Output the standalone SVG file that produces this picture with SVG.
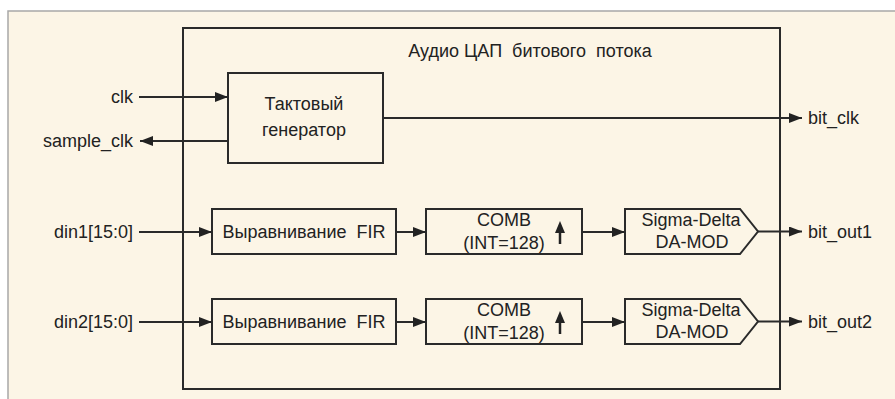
<svg xmlns="http://www.w3.org/2000/svg" width="895" height="399" viewBox="0 0 895 399">
<style>
  .t { font-family: "Liberation Sans", Arial, sans-serif; font-size: 18px; fill: #222; }
  .m { text-anchor: middle; }
  .e { text-anchor: end; }
  .box { fill: none; stroke: #2a2a2a; stroke-width: 2; }
  .ln { fill: none; stroke: #2a2a2a; stroke-width: 2; }
  .up { fill: none; stroke: #222; stroke-width: 2.5; }
</style>
<defs>
  <marker id="ah" markerWidth="13" markerHeight="10" refX="13" refY="5" orient="auto" markerUnits="userSpaceOnUse">
    <path d="M0,0 L13,5 L0,10 Z" fill="#222"/>
  </marker>
</defs>
<rect x="0" y="0" width="895" height="399" fill="#ffffff"/>
<rect x="8" y="11" width="900" height="400" fill="#fcf5e6" stroke="#a8a8a8" stroke-width="1.5"/>

<g id="dac">
  <rect class="box" x="183" y="28" width="597" height="361"/>
  <text class="t m" x="530" y="57" xml:space="preserve">Аудио ЦАП  битового  потока</text>
</g>

<g id="clkgen">
  <rect class="box" x="228" y="73" width="155" height="90"/>
  <text class="t m" x="304" y="110">Тактовый</text>
  <text class="t m" x="304" y="136">генератор</text>
</g>

<g id="fir1">
  <rect class="box" x="212" y="209" width="184" height="45"/>
  <text class="t m" x="304" y="238" xml:space="preserve">Выравнивание  FIR</text>
</g>
<g id="comb1">
  <rect class="box" x="426" y="209" width="156" height="45"/>
  <text class="t m" x="504" y="226">COMB</text>
  <text class="t m" x="504" y="249">(INT=128)</text>
  <line class="up" x1="560" y1="244" x2="560" y2="230"/>
  <path d="M555,233 L560,221 L565,233 Z" fill="#222"/>
</g>
<g id="sd1">
  <path class="box" d="M625,209 L740,209 L758,231.5 L740,254 L625,254 Z"/>
  <text class="t m" x="691" y="226">Sigma-Delta</text>
  <text class="t m" x="692" y="248">DA-MOD</text>
</g>

<g id="fir2">
  <rect class="box" x="212" y="299" width="184" height="45"/>
  <text class="t m" x="304" y="328" xml:space="preserve">Выравнивание  FIR</text>
</g>
<g id="comb2">
  <rect class="box" x="426" y="299" width="156" height="45"/>
  <text class="t m" x="504" y="316">COMB</text>
  <text class="t m" x="504" y="339">(INT=128)</text>
  <line class="up" x1="560" y1="334" x2="560" y2="320"/>
  <path d="M555,323 L560,311 L565,323 Z" fill="#222"/>
</g>
<g id="sd2">
  <path class="box" d="M625,299 L740,299 L758,321.5 L740,344 L625,344 Z"/>
  <text class="t m" x="691" y="316">Sigma-Delta</text>
  <text class="t m" x="692" y="338">DA-MOD</text>
</g>

<g id="ports">
  <text class="t e" x="133" y="103">clk</text>
  <text class="t e" x="133" y="147">sample_clk</text>
  <text class="t e" x="133" y="238">din1[15:0]</text>
  <text class="t e" x="133" y="328">din2[15:0]</text>
  <text class="t" x="808" y="124">bit_clk</text>
  <text class="t" x="808" y="238">bit_out1</text>
  <text class="t" x="808" y="328">bit_out2</text>
</g>

<g id="connectors">
  <line class="ln" x1="139" y1="97" x2="228" y2="97" marker-end="url(#ah)"/>
  <line class="ln" x1="228" y1="141" x2="140" y2="141" marker-end="url(#ah)"/>
  <line class="ln" x1="383" y1="118" x2="802" y2="118" marker-end="url(#ah)"/>
  <line class="ln" x1="139" y1="232" x2="212" y2="232" marker-end="url(#ah)"/>
  <line class="ln" x1="396" y1="232" x2="426" y2="232" marker-end="url(#ah)"/>
  <line class="ln" x1="582" y1="232" x2="625" y2="232" marker-end="url(#ah)"/>
  <line class="ln" x1="758" y1="231.5" x2="802" y2="231.5" marker-end="url(#ah)"/>
  <line class="ln" x1="139" y1="322" x2="212" y2="322" marker-end="url(#ah)"/>
  <line class="ln" x1="396" y1="322" x2="426" y2="322" marker-end="url(#ah)"/>
  <line class="ln" x1="582" y1="322" x2="625" y2="322" marker-end="url(#ah)"/>
  <line class="ln" x1="758" y1="321.5" x2="802" y2="321.5" marker-end="url(#ah)"/>
</g>
</svg>
